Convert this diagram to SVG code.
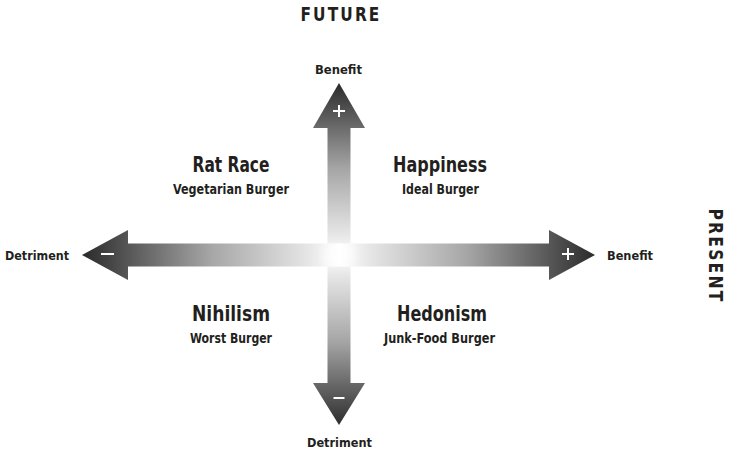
<svg xmlns="http://www.w3.org/2000/svg" width="739" height="454" viewBox="0 0 739 454">
<style>
text{font-family:"Liberation Sans Narrow","DejaVu Sans Condensed","Liberation Sans",sans-serif;font-weight:bold;fill:#231f20;text-anchor:middle}
.axis{font-size:20px;letter-spacing:2.5px}
.end{font-size:13px}
.title{font-size:21px}
.sub{font-size:14px}
.sign{stroke:#fff;stroke-width:2;fill:none}
</style>
<defs>
<linearGradient id="gh" gradientUnits="userSpaceOnUse" x1="339" y1="0" x2="595" y2="0" spreadMethod="reflect">
<stop offset="0" stop-color="#ffffff"/>
<stop offset="0.12" stop-color="#e6e6e6"/>
<stop offset="0.5" stop-color="#a6a6a6"/>
<stop offset="1" stop-color="#2b2b2b"/>
</linearGradient>
<linearGradient id="gv" gradientUnits="userSpaceOnUse" x1="0" y1="255" x2="0" y2="83" spreadMethod="reflect">
<stop offset="0" stop-color="#ffffff"/>
<stop offset="0.12" stop-color="#e6e6e6"/>
<stop offset="0.5" stop-color="#a6a6a6"/>
<stop offset="1" stop-color="#2b2b2b"/>
</linearGradient>
<radialGradient id="glow" gradientUnits="userSpaceOnUse" cx="339" cy="255" r="22">
<stop offset="0" stop-color="#fff" stop-opacity="1"/>
<stop offset="1" stop-color="#fff" stop-opacity="0"/>
</radialGradient>
</defs>
<g id="connectors">
<polygon id="vertical-axis" fill="url(#gv)" points="339,83 365,128 350.5,128 350.5,383 365,383 339,425 313,383 327.5,383 327.5,128 313,128"/>
<polygon id="horizontal-axis" fill="url(#gh)" points="82,255 128,230 128,243.5 549,243.5 549,230 595,255 549,280 549,266.5 128,266.5 128,280"/>
<rect x="316" y="243.5" width="46" height="23" fill="url(#glow)"/>
<path class="sign" d="M333,111h12M339,105v12"/>
<path class="sign" d="M562,254h12M568,248v12"/>
<path class="sign" d="M101,254h13"/>
<path class="sign" d="M333.5,398h11"/>
</g>
<g id="axis-future"><text class="axis" x="341" y="21" textLength="81" lengthAdjust="spacingAndGlyphs">FUTURE</text></g>
<g id="axis-present"><text class="axis" transform="translate(709,256) rotate(90)" x="0" y="0" textLength="95" lengthAdjust="spacingAndGlyphs">PRESENT</text></g>
<g id="end-top"><text class="end" x="338.5" y="74" textLength="47" lengthAdjust="spacingAndGlyphs">Benefit</text></g>
<g id="end-right"><text class="end" x="630" y="260" textLength="46" lengthAdjust="spacingAndGlyphs">Benefit</text></g>
<g id="end-left"><text class="end" x="37" y="260" textLength="64" lengthAdjust="spacingAndGlyphs">Detriment</text></g>
<g id="end-bottom"><text class="end" x="339.5" y="447" textLength="65" lengthAdjust="spacingAndGlyphs">Detriment</text></g>
<g id="rat-race"><text class="title" x="231" y="172" textLength="77" lengthAdjust="spacingAndGlyphs">Rat Race</text><text class="sub" x="231" y="194" textLength="116" lengthAdjust="spacingAndGlyphs">Vegetarian Burger</text></g>
<g id="happiness"><text class="title" x="440" y="172" textLength="94" lengthAdjust="spacingAndGlyphs">Happiness</text><text class="sub" x="440.5" y="194" textLength="77" lengthAdjust="spacingAndGlyphs">Ideal Burger</text></g>
<g id="nihilism"><text class="title" x="231" y="321" textLength="78" lengthAdjust="spacingAndGlyphs">Nihilism</text><text class="sub" x="231" y="343" textLength="82" lengthAdjust="spacingAndGlyphs">Worst Burger</text></g>
<g id="hedonism"><text class="title" x="442" y="321" textLength="90" lengthAdjust="spacingAndGlyphs">Hedonism</text><text class="sub" x="439.5" y="343" textLength="111" lengthAdjust="spacingAndGlyphs">Junk-Food Burger</text></g>
</svg>
